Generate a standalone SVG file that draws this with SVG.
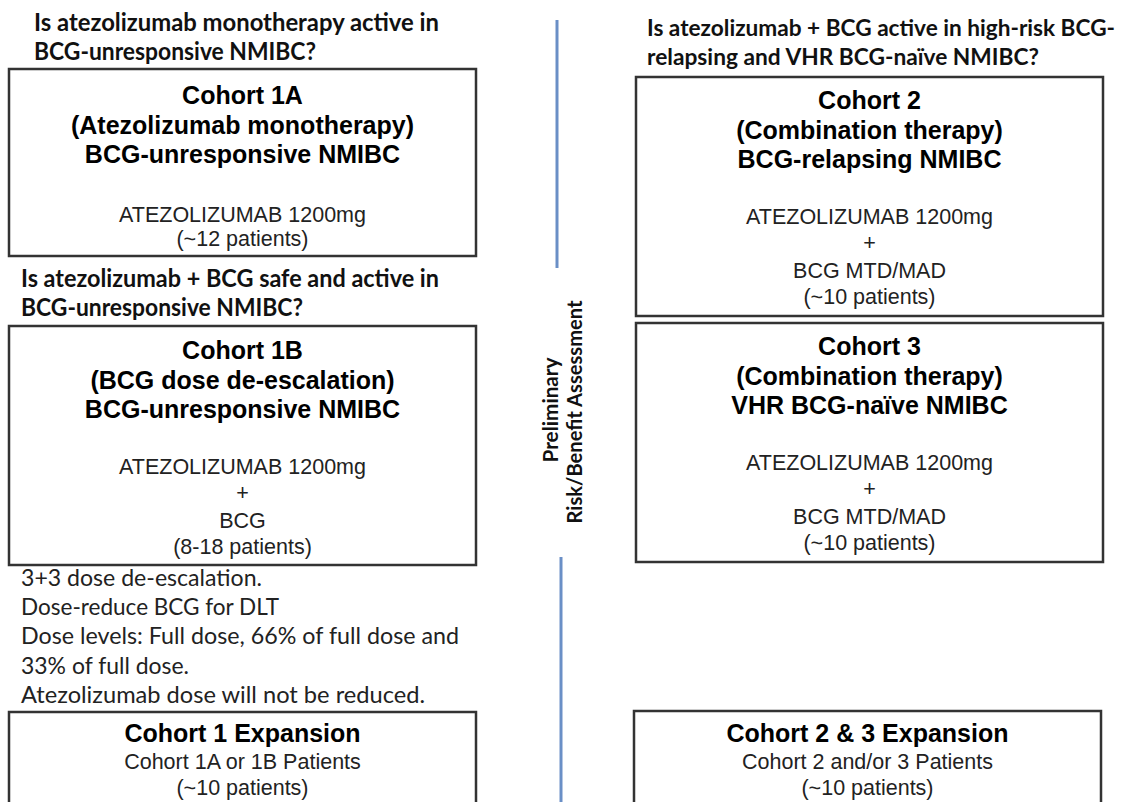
<svg xmlns="http://www.w3.org/2000/svg" width="1128" height="802" viewBox="0 0 1128 802">
<style>
.box{fill:#fff;stroke:#333;stroke-width:2.5}
.hd{font-family:"Liberation Sans",Arial,sans-serif;font-weight:bold;font-size:25px;fill:#000;text-anchor:middle}
.bd{font-family:"Liberation Sans",Arial,sans-serif;font-size:21.5px;fill:#222;text-anchor:middle}
.q{font-family:Lato,"Open Sans",sans-serif;font-weight:bold;font-size:24px;fill:#111}
.q3{font-size:22.5px}
.nt{font-family:Lato,"Open Sans",sans-serif;font-size:23px;fill:#222}
.vt{font-family:Lato,"Open Sans",sans-serif;font-weight:bold;font-size:21px;fill:#111;text-anchor:middle}
.ln{stroke:#6a8fc6;stroke-width:3;fill:none}
</style>
<rect width="1128" height="802" fill="#fff"/>
<g id="connectors">
<line class="ln" x1="557" y1="20" x2="557" y2="268"/>
<line class="ln" x1="561" y1="557" x2="561" y2="802"/>
</g>
<g id="question1">
<text class="q" x="34" y="31" textLength="405" lengthAdjust="spacingAndGlyphs">Is atezolizumab monotherapy active in</text>
<text class="q" x="34" y="60" textLength="282" lengthAdjust="spacingAndGlyphs">BCG-unresponsive NMIBC?</text>
</g>
<g id="cohort1a">
<rect class="box" x="9" y="69" width="467" height="187"/>
<text class="hd" x="242.5" y="104">Cohort 1A</text>
<text class="hd" x="242.5" y="134">(Atezolizumab monotherapy)</text>
<text class="hd" x="242.5" y="163">BCG-unresponsive NMIBC</text>
<text class="bd" x="242.5" y="222">ATEZOLIZUMAB 1200mg</text>
<text class="bd" x="242.5" y="246">(~12 patients)</text>
</g>
<g id="question2">
<text class="q" x="21" y="287" textLength="418" lengthAdjust="spacingAndGlyphs">Is atezolizumab + BCG safe and active in</text>
<text class="q" x="21" y="316" textLength="282" lengthAdjust="spacingAndGlyphs">BCG-unresponsive NMIBC?</text>
</g>
<g id="cohort1b">
<rect class="box" x="9" y="326" width="467" height="239"/>
<text class="hd" x="242.5" y="359">Cohort 1B</text>
<text class="hd" x="242.5" y="389">(BCG dose de-escalation)</text>
<text class="hd" x="242.5" y="418">BCG-unresponsive NMIBC</text>
<text class="bd" x="242.5" y="474">ATEZOLIZUMAB 1200mg</text>
<text class="bd" x="242.5" y="500">+</text>
<text class="bd" x="242.5" y="528">BCG</text>
<text class="bd" x="242.5" y="554">(8-18 patients)</text>
</g>
<g id="notes">
<text class="nt" x="21" y="586" textLength="241" lengthAdjust="spacingAndGlyphs">3+3 dose de-escalation.</text>
<text class="nt" x="21" y="615" textLength="258" lengthAdjust="spacingAndGlyphs">Dose-reduce BCG for DLT</text>
<text class="nt" x="21" y="644" textLength="438" lengthAdjust="spacingAndGlyphs">Dose levels: Full dose, 66% of full dose and</text>
<text class="nt" x="21" y="674" textLength="168" lengthAdjust="spacingAndGlyphs">33% of full dose.</text>
<text class="nt" x="21" y="703" textLength="404" lengthAdjust="spacingAndGlyphs">Atezolizumab dose will not be reduced.</text>
</g>
<g id="cohort1exp">
<rect class="box" x="9" y="712" width="467" height="120"/>
<text class="hd" x="242.5" y="742">Cohort 1 Expansion</text>
<text class="bd" x="242.5" y="769">Cohort 1A or 1B Patients</text>
<text class="bd" x="242.5" y="795">(~10 patients)</text>
</g>
<g id="assessment">
<text class="vt" transform="translate(558,410) rotate(-90)" textLength="105" lengthAdjust="spacingAndGlyphs">Preliminary</text>
<text class="vt" transform="translate(582,412) rotate(-90)" textLength="223" lengthAdjust="spacingAndGlyphs">Risk/Benefit Assessment</text>
</g>
<g id="question3">
<text class="q q3" x="647" y="36" textLength="468" lengthAdjust="spacingAndGlyphs">Is atezolizumab + BCG active in high-risk BCG-</text>
<text class="q q3" x="647" y="65" textLength="392" lengthAdjust="spacingAndGlyphs">relapsing and VHR BCG-naïve NMIBC?</text>
</g>
<g id="cohort2">
<rect class="box" x="636" y="77" width="467" height="239"/>
<text class="hd" x="869.5" y="109">Cohort 2</text>
<text class="hd" x="869.5" y="139">(Combination therapy)</text>
<text class="hd" x="869.5" y="168">BCG-relapsing NMIBC</text>
<text class="bd" x="869.5" y="224">ATEZOLIZUMAB 1200mg</text>
<text class="bd" x="869.5" y="250">+</text>
<text class="bd" x="869.5" y="278">BCG MTD/MAD</text>
<text class="bd" x="869.5" y="304">(~10 patients)</text>
</g>
<g id="cohort3">
<rect class="box" x="636" y="323" width="467" height="239"/>
<text class="hd" x="869.5" y="355">Cohort 3</text>
<text class="hd" x="869.5" y="385">(Combination therapy)</text>
<text class="hd" x="869.5" y="414">VHR BCG-naïve NMIBC</text>
<text class="bd" x="869.5" y="470">ATEZOLIZUMAB 1200mg</text>
<text class="bd" x="869.5" y="496">+</text>
<text class="bd" x="869.5" y="524">BCG MTD/MAD</text>
<text class="bd" x="869.5" y="550">(~10 patients)</text>
</g>
<g id="cohort23exp">
<rect class="box" x="634" y="711" width="467" height="120"/>
<text class="hd" x="867.5" y="742">Cohort 2 &amp; 3 Expansion</text>
<text class="bd" x="867.5" y="769">Cohort 2 and/or 3 Patients</text>
<text class="bd" x="867.5" y="795">(~10 patients)</text>
</g>
</svg>
